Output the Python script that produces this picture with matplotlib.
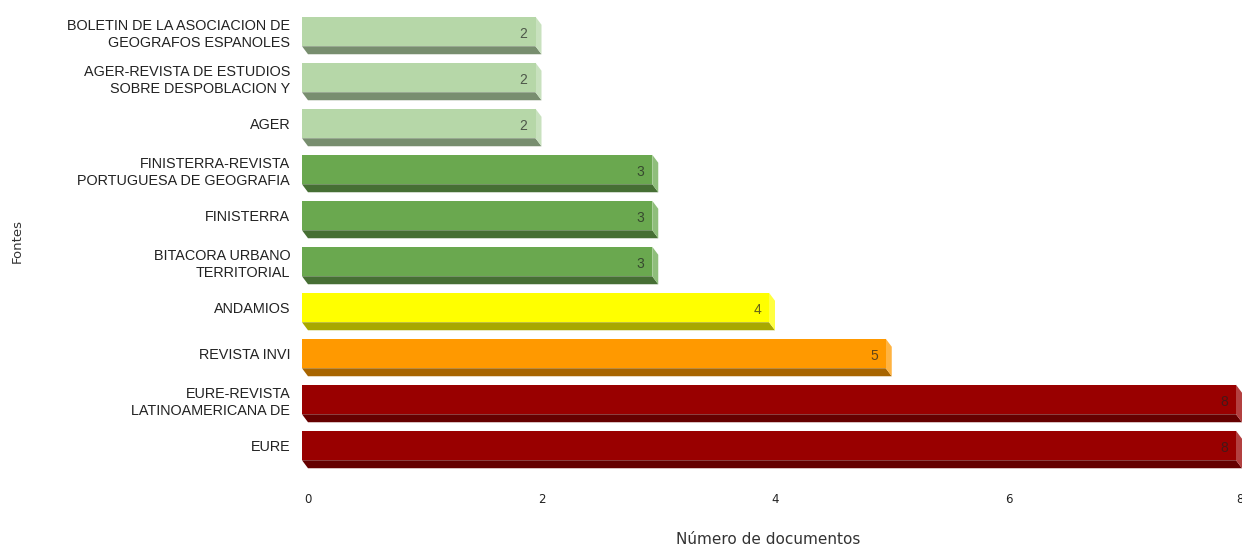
import matplotlib
matplotlib.use("Agg")
import matplotlib.pyplot as plt
from matplotlib.patches import Polygon
from matplotlib.colors import to_rgb
from matplotlib.transforms import ScaledTranslation

# data, top to bottom as in the chart
categories = [
    "BOLETIN DE LA ASOCIACION DE\nGEOGRAFOS ESPANOLES",
    "AGER-REVISTA DE ESTUDIOS\nSOBRE DESPOBLACION Y",
    "AGER",
    "FINISTERRA-REVISTA\nPORTUGUESA DE GEOGRAFIA",
    "FINISTERRA",
    "BITACORA URBANO\nTERRITORIAL",
    "ANDAMIOS",
    "REVISTA INVI",
    "EURE-REVISTA\nLATINOAMERICANA DE",
    "EURE",
]
values = [2, 2, 2, 3, 3, 3, 4, 5, 8, 8]
bar_colors = ["#b6d7a8", "#b6d7a8", "#b6d7a8", "#6aa84f", "#6aa84f", "#6aa84f",
              "#ffff00", "#ff9900", "#990000", "#990000"]
xticks = [0, 2, 4, 6, 8]

W, H, DPI = 1242, 549, 100
fig = plt.figure(figsize=(W / DPI, H / DPI), dpi=DPI)
ax_l, ax_r, ax_t, ax_b = 302, 1242, 8, 478
ax = fig.add_axes([ax_l / W, 1 - ax_b / H, (ax_r - ax_l) / W, (ax_b - ax_t) / H])

px_x = 116.75          # pixels per unit on x
px_row = 46.0          # pixels per category
n = len(categories)
ax.set_xlim(0, (ax_r - ax_l) / px_x)
first_c = 31.5
ax.set_ylim(n - 1 - (ax_b - first_c) / px_row, n - 1 + (first_c - ax_t) / px_row)

depth_x = 6.0 / px_x
depth_y = 8.0 / px_row
bh = 29.5 / px_row


def shade(c, f):
    r, g, b = to_rgb(c)
    return (r * f, g * f, b * f)


def tint(c, f):
    r, g, b = to_rgb(c)
    return (r + (1 - r) * f, g + (1 - g) * f, b + (1 - b) * f)


ypos = [n - 1 - i for i in range(n)]
for y, v, c in zip(ypos, values, bar_colors):
    top, bot = y + bh / 2, y - bh / 2
    # bottom face
    ax.add_patch(Polygon([(0, bot), (v, bot), (v + depth_x, bot - depth_y),
                          (depth_x, bot - depth_y)], closed=True,
                         facecolor=shade(c, 0.66), edgecolor="none"))
    # right face
    ax.add_patch(Polygon([(v, top), (v + depth_x, top - depth_y),
                          (v + depth_x, bot - depth_y), (v, bot)], closed=True,
                         facecolor=tint(c, 0.25), edgecolor="none"))
    ax.barh(y, v, height=bh, color=c, edgecolor="none")
    ax.annotate(str(v), xy=(v, y), xytext=(-8, -3), textcoords="offset pixels",
                ha="right", va="center", fontsize=10, family="Liberation Sans",
                color="#222222", alpha=0.7)

ax.set_yticks(ypos)
ax.set_yticklabels(categories, family="Liberation Sans", fontsize=10.4,
                   linespacing=1.3, multialignment="right", color="#222222")
ax.set_xticks(xticks)
ax.set_xticklabels([str(t) for t in xticks], fontsize=8.5, color="#222222",
                   fontweight="medium")
ax.tick_params(axis="both", length=0)
ax.tick_params(axis="y", pad=8.5)
ax.tick_params(axis="x", pad=10.5)
shift = ScaledTranslation(6 / DPI, 0, fig.dpi_scale_trans)
last_shift = ScaledTranslation(4 / DPI, 0, fig.dpi_scale_trans)
xlabels = ax.get_xticklabels()
for lab in xlabels[:-1]:
    lab.set_transform(lab.get_transform() + shift)
xlabels[-1].set_transform(xlabels[-1].get_transform() + last_shift)
for s in ax.spines.values():
    s.set_visible(False)

fig.text(768 / W, 1 - 540 / H, "Número de documentos", ha="center", va="center",
         fontsize=11, color="#333333")
fig.text(17 / W, 1 - 241 / H, "Fontes", ha="center", va="center",
         rotation=90, fontsize=9.5, color="#333333")

fig.savefig("out.png", dpi=DPI)
